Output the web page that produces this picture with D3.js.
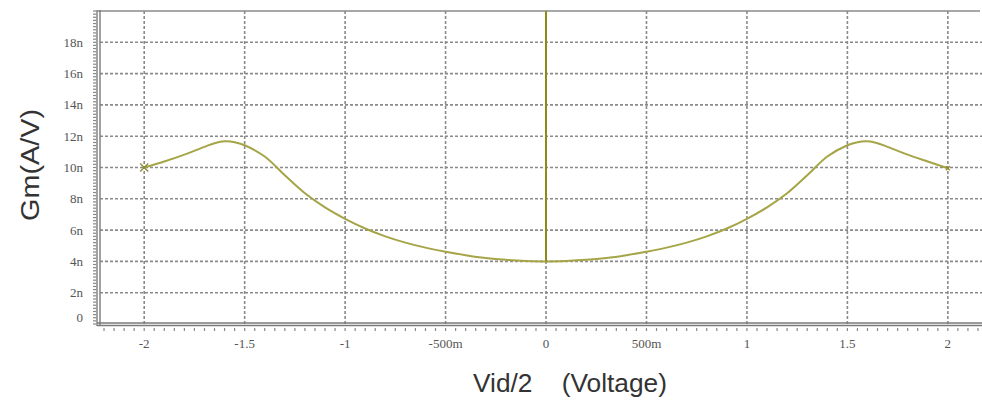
<!DOCTYPE html>
<html>
<head>
<meta charset="utf-8">
<script src="https://cdn.jsdelivr.net/npm/d3@7"></script>
<style>
  body { margin: 0; background: #fff; }
  svg { display: block; }
</style>
</head>
<body>
<div id="chart-area"></div>
<script>
// Vid/2 (V) and Gm (nA/V)
var vid = [-2.0, -1.9, -1.8, -1.7, -1.65, -1.6, -1.55, -1.5, -1.4, -1.3, -1.2, -1.1, -1.0,
           -0.9, -0.8, -0.7, -0.6, -0.5, -0.4, -0.3, -0.2, -0.1, 0.0,
           0.1, 0.2, 0.3, 0.4, 0.5, 0.6, 0.7, 0.8, 0.9,
           1.0, 1.1, 1.2, 1.3, 1.4, 1.5, 1.55, 1.6, 1.65, 1.7, 1.8, 1.9, 2.0];
var gm  = [10.0, 10.38, 10.82, 11.32, 11.55, 11.67, 11.62, 11.42, 10.7, 9.5, 8.35, 7.45, 6.72,
           6.1, 5.6, 5.2, 4.88, 4.62, 4.4, 4.22, 4.1, 4.03, 4.0,
           4.03, 4.1, 4.22, 4.4, 4.62, 4.88, 5.2, 5.6, 6.1,
           6.72, 7.45, 8.35, 9.5, 10.7, 11.42, 11.62, 11.67, 11.55, 11.32, 10.82, 10.38, 9.95];

// spike at Vid/2 = 0 running off the top of the plot
var spikeX = 0, spikeFrom = 4.0, spikeTo = 20;

var xTicks = [-2, -1.5, -1, -0.5, 0, 0.5, 1, 1.5, 2];
var xTickLabels = ["-2", "-1.5", "-1", "-500m", "0", "500m", "1", "1.5", "2"];
var yTicks = [0, 2, 4, 6, 8, 10, 12, 14, 16, 18];

var W = 982, H = 401;
var pLeft = 100, pRight = 982, pTop = 11, pBottom = 324;

var svg = d3.select("#chart-area")
    .append("svg")
        .attr("width", W)
        .attr("height", H);

var x = d3.scaleLinear().domain([-2.22, 2.17]).range([pLeft, pRight]);
var y = d3.scaleLinear().domain([0, 20]).range([pBottom, pTop]);

var gridCol = "#8a8a8a";

// grid, dotted
svg.append("g").selectAll("line")
    .data(yTicks.filter(function(d){ return d > 0; }))
    .enter().append("line")
        .attr("x1", pLeft).attr("x2", pRight)
        .attr("y1", function(d){ return y(d); })
        .attr("y2", function(d){ return y(d); })
        .attr("stroke", gridCol)
        .attr("stroke-width", 1.6)
        .attr("stroke-dasharray", "3,2");

svg.append("g").selectAll("line")
    .data(xTicks)
    .enter().append("line")
        .attr("x1", function(d){ return x(d); })
        .attr("x2", function(d){ return x(d); })
        .attr("y1", pTop).attr("y2", pBottom)
        .attr("stroke", gridCol)
        .attr("stroke-width", 1.6)
        .attr("stroke-dasharray", "3,2");

// frame: top line + double axis lines
svg.append("line")
    .attr("x1", pLeft - 3).attr("x2", 980)
    .attr("y1", pTop).attr("y2", pTop)
    .attr("stroke", "#8a8a8a").attr("stroke-width", 1.5);

[pLeft - 3, pLeft].forEach(function(px){
    svg.append("line")
        .attr("x1", px).attr("x2", px)
        .attr("y1", pTop - 1).attr("y2", pBottom + 2)
        .attr("stroke", "#7a7a7a").attr("stroke-width", 1.4);
});
[pBottom - 1, pBottom + 1.5].forEach(function(py){
    svg.append("line")
        .attr("x1", pLeft - 3).attr("x2", pRight)
        .attr("y1", py).attr("y2", py)
        .attr("stroke", "#7a7a7a").attr("stroke-width", 1.4);
});

// minor ticks
var yMinor = d3.range(0, 20.01, 0.2);
svg.append("g").selectAll("line")
    .data(yMinor)
    .enter().append("line")
        .attr("x1", pLeft - 7).attr("x2", pLeft - 4)
        .attr("y1", function(d){ return y(d); })
        .attr("y2", function(d){ return y(d); })
        .attr("stroke", "#888").attr("stroke-width", 1.2);

var xMinor = d3.range(-2.2, 2.171, 0.05);
svg.append("g").selectAll("line")
    .data(xMinor)
    .enter().append("line")
        .attr("x1", function(d){ return x(d); })
        .attr("x2", function(d){ return x(d); })
        .attr("y1", pBottom + 4).attr("y2", pBottom + 7)
        .attr("stroke", "#888").attr("stroke-width", 1.2);

// tick labels
svg.append("g").selectAll("text")
    .data(yTicks)
    .enter().append("text")
        .attr("x", 83)
        .attr("y", function(d){ return y(d) + (d === 0 ? -2 : 4.5); })
        .attr("text-anchor", "end")
        .attr("font-family", "'Liberation Serif', 'DejaVu Serif', serif")
        .attr("font-size", "13px")
        .attr("fill", "#555")
        .text(function(d){ return d === 0 ? "0" : d + "n"; });

svg.append("g").selectAll("text")
    .data(xTicks)
    .enter().append("text")
        .attr("x", function(d){ return x(d); })
        .attr("y", 348)
        .attr("text-anchor", "middle")
        .attr("font-family", "'Liberation Serif', 'DejaVu Serif', serif")
        .attr("font-size", "13px")
        .attr("fill", "#555")
        .text(function(d, i){ return xTickLabels[i]; });

// axis titles
svg.append("text")
    .attr("transform", "translate(39,165) rotate(-90)")
    .attr("text-anchor", "middle")
    .attr("font-family", "'Liberation Sans', Arial, sans-serif")
    .attr("font-size", "25px")
    .attr("fill", "#333")
    .attr("textLength", 112)
    .attr("lengthAdjust", "spacingAndGlyphs")
    .text("Gm(A/V)");

svg.append("text")
    .attr("x", 570)
    .attr("y", 392)
    .attr("text-anchor", "middle")
    .attr("font-family", "'Liberation Sans', Arial, sans-serif")
    .attr("font-size", "25px")
    .attr("fill", "#333")
    .attr("textLength", 194)
    .attr("lengthAdjust", "spacingAndGlyphs")
    .style("white-space", "pre")
    .text("Vid/2    (Voltage)");

// curve
var pts = vid.map(function(v, i){ return [v, gm[i]]; });
var line = d3.line()
    .x(function(d){ return x(d[0]); })
    .y(function(d){ return y(d[1]); })
    .curve(d3.curveCatmullRom.alpha(0.5));

svg.append("path")
    .datum(pts)
    .attr("d", line)
    .attr("fill", "none")
    .attr("stroke", "#a5a548")
    .attr("stroke-width", 2);

// spike at zero
svg.append("line")
    .attr("x1", x(spikeX)).attr("x2", x(spikeX))
    .attr("y1", y(spikeFrom)).attr("y2", y(spikeTo))
    .attr("stroke", "#8c8c14")
    .attr("stroke-width", 2);

// end markers
[pts[0], pts[pts.length - 1]].forEach(function(p, i){
    var cx = x(p[0]), cy = y(p[1]), s = i === 0 ? 4 : 2;
    svg.append("path")
        .attr("d", "M" + (cx - s) + "," + (cy - s) + "L" + (cx + s) + "," + (cy + s)
            + "M" + (cx - s) + "," + (cy + s) + "L" + (cx + s) + "," + (cy - s))
        .attr("stroke", "#8c8c30")
        .attr("stroke-width", 1.3);
});
</script>
</body>
</html>
